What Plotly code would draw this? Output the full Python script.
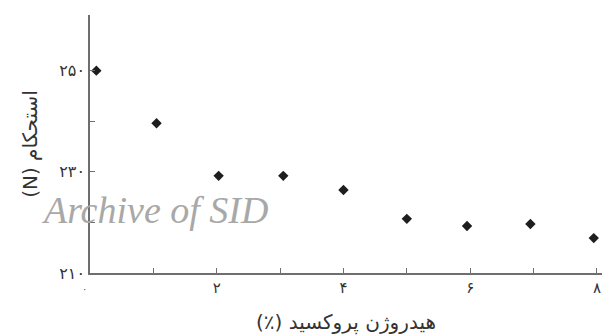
import plotly.graph_objects as go

# Data
hydrogen_peroxide = [0.1, 1.05, 2.03, 3.05, 4.0, 5.0, 5.95, 6.95, 7.95]
strength_N = [250.0, 239.6, 229.2, 229.2, 226.4, 220.7, 219.3, 219.7, 216.9]

x_tickvals = [1, 2, 3, 4, 5, 6, 7, 8]
x_ticktext = ["", "۲", "", "۴", "", "۶", "", "۸"]
y_tickvals = [210, 220, 230, 240, 250, 261]
y_ticktext = ["۲۱۰", "", "۲۳۰", "", "۲۵۰", ""]

x_title = "(٪) هیدروژن پروکسید"
y_title = "(N) استحکام"
origin_label = "۰"
watermark = "Archive of SID"

axis_color = "#6e6e6e"
text_color = "#333333"
font_family = "DejaVu Sans"

fig = go.Figure()
fig.add_trace(go.Scatter(
    x=hydrogen_peroxide, y=strength_N, mode="markers",
    marker=dict(symbol="diamond", size=8, color="#1e1e1e"),
    showlegend=False, cliponaxis=False,
))

fig.update_layout(
    width=606, height=335,
    margin=dict(l=90, r=4, t=15, b=62, autoexpand=False),
    paper_bgcolor="white", plot_bgcolor="white",
    font=dict(family=font_family, color=text_color, size=12),
    xaxis=dict(
        range=[0, 8.08], showgrid=False, zeroline=False,
        showline=True, linecolor=axis_color, linewidth=1.5,
        ticks="inside", ticklen=5, tickwidth=1, tickcolor=axis_color,
        tickvals=x_tickvals, ticktext=x_ticktext,
        tickfont=dict(size=15, color=text_color),
        title=dict(text=x_title, font=dict(size=20, color=text_color), standoff=20),
        automargin=False,
    ),
    yaxis=dict(
        range=[210, 261], showgrid=False, zeroline=False,
        showline=True, linecolor=axis_color, linewidth=1.5,
        ticks="inside", ticklen=5, tickwidth=1, tickcolor=axis_color,
        tickvals=y_tickvals, ticktext=y_ticktext,
        tickfont=dict(size=16, color=text_color),
        title=dict(text=y_title, font=dict(size=20, color=text_color), standoff=16),
        automargin=False,
    ),
    annotations=[
        dict(text=origin_label, x=0, y=0, xref="x domain", yref="y domain",
             xshift=-10, yshift=-23, showarrow=False,
             font=dict(size=10, color="#555555")),
        dict(text="<i>" + watermark + "</i>", x=-0.1, y=0.245, xref="x domain", yref="y domain",
             xanchor="left", yanchor="middle", showarrow=False,
             font=dict(family="Liberation Serif, Times New Roman, serif", size=38, color="#a8a8a8")),
    ],
)

fig.write_html("out.html", post_script="document.body.style.margin='0';",
               config={"displayModeBar": False})
